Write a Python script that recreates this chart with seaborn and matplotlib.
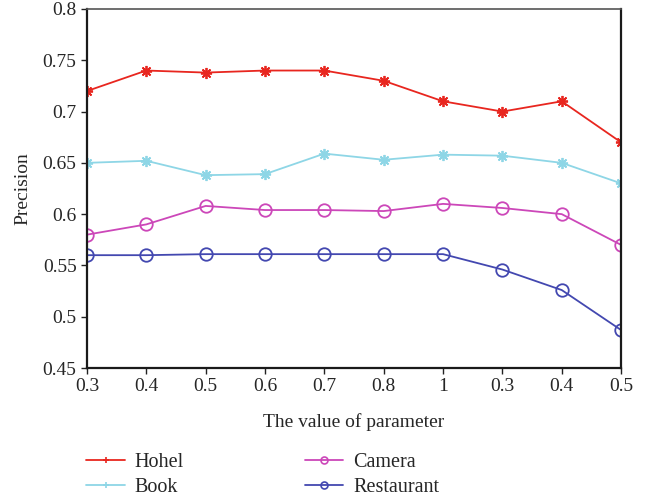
import numpy as np
import pandas as pd
import matplotlib
matplotlib.use("Agg")
import matplotlib.pyplot as plt
from matplotlib.lines import Line2D
import seaborn as sns

# x tick labels (parameter values as printed on the axis)
tick_labels = ["0.3", "0.4", "0.5", "0.6", "0.7", "0.8", "1", "0.3", "0.4", "0.5"]

hohel = [0.720, 0.740, 0.738, 0.740, 0.740, 0.730, 0.710, 0.700, 0.710, 0.670]
book = [0.650, 0.652, 0.638, 0.639, 0.659, 0.653, 0.658, 0.657, 0.650, 0.630]
camera = [0.580, 0.590, 0.608, 0.604, 0.604, 0.603, 0.610, 0.606, 0.600, 0.570]
restaurant = [0.560, 0.560, 0.561, 0.561, 0.561, 0.561, 0.561, 0.546, 0.526, 0.487]

series_names = ["Hohel", "Book", "Camera", "Restaurant"]
colors = ["#e8261f", "#8ed6e6", "#cc47b9", "#4348b0"]

rows = []
for name, vals in zip(series_names, [hohel, book, camera, restaurant]):
    for i, v in enumerate(vals):
        rows.append({"pos": i, "Precision": v, "Series": name})
df = pd.DataFrame(rows)

sns.set_style("white")
plt.rcParams["font.family"] = ["Liberation Serif", "DejaVu Serif"]

fig = plt.figure(figsize=(6.49, 4.99), dpi=100)
ax = fig.add_axes([0.134, 0.2625, 0.823, 0.7195])

palette = dict(zip(series_names, colors))
asterisk = (8, 2, 0)
groups = [(["Hohel", "Book"], asterisk, 8), (["Camera", "Restaurant"], "o", 9)]

# star-marked series, then circle-marked series
for group, mk, ms in groups:
    sub = df[df["Series"].isin(group)]
    sns.lineplot(data=sub, x="pos", y="Precision", hue="Series", hue_order=group,
                 palette=palette, marker=mk, lw=1.3, markersize=ms,
                 markerfacecolor="none", markeredgewidth=1.3, ax=ax, legend=False)

# color the marker edges like their lines
for line in ax.get_lines():
    line.set_markeredgecolor(line.get_color())

ax.set_xlim(0, len(tick_labels) - 1)
ax.set_ylim(0.45, 0.8)
ax.set_xticks(range(len(tick_labels)))
ax.set_xticklabels(tick_labels)
ax.set_yticks([0.45, 0.5, 0.55, 0.6, 0.65, 0.7, 0.75, 0.8])
ax.set_yticklabels(["0.45", "0.5", "0.55", "0.6", "0.65", "0.7", "0.75", "0.8"])
ax.tick_params(axis="both", direction="out", length=4, width=1, labelsize=14,
               bottom=True, left=True, color="#222222")
ax.set_xlabel("The value of parameter", fontsize=14, labelpad=13)
ax.set_ylabel("Precision", fontsize=14, labelpad=8)

for side in ["left", "bottom", "right"]:
    ax.spines[side].set_color("#1a1a1a")
    ax.spines[side].set_linewidth(1.6)
ax.spines["top"].set_color("#555555")
ax.spines["top"].set_linewidth(1.2)
for sp in ax.spines.values():
    sp.set_visible(True)

# legend handles: small markers, as in the reference
handles = []
for group, mk, ms in groups:
    for name in group:
        handles.append(Line2D([], [], color=palette[name], lw=1.3,
                              marker="+" if mk == asterisk else mk,
                              markersize=5, markerfacecolor="none",
                              markeredgecolor=palette[name], markeredgewidth=1.2))
ax.legend(handles, series_names,
          loc="upper left", bbox_to_anchor=(-0.035, -0.185), ncol=2,
          frameon=False, fontsize=14.5, handlelength=1.9, handletextpad=0.5,
          columnspacing=6.0, labelspacing=0.32)

fig.savefig("out.png", dpi=100)
